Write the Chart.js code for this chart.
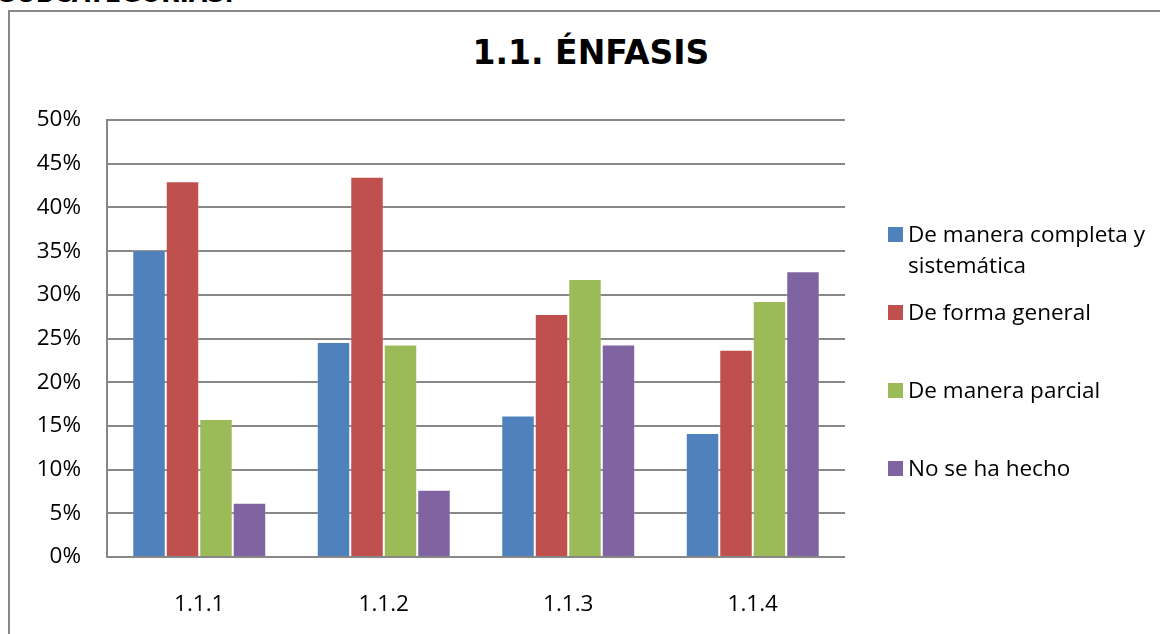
<!DOCTYPE html>
<html lang="es">
<head>
<meta charset="utf-8">
<title>1.1. ÉNFASIS</title>
<script src="https://cdn.jsdelivr.net/npm/chart.js@4.4.1/dist/chart.umd.min.js"></script>
<style>
  html, body { margin: 0; padding: 0; background: #fff; overflow: hidden; }
  body { width: 1160px; height: 634px; position: relative; font-family: 'Open Sans', sans-serif; }
  .page-heading { position: absolute; left: -1px; top: -18px; font: bold 24px/24px 'DejaVu Sans', sans-serif; color: #000; white-space: nowrap; }
  .frame { position: absolute; left: 8px; top: 10px; width: 1200px; height: 700px; border-left: 2px solid #878787; border-top: 2px solid #878787; }
  .chart-title { position: absolute; left: 0; top: 34px; width: 1182px; text-align: center; font: bold 33px/38px 'DejaVu Sans', sans-serif; color: #000; }
  .chart-wrap { position: absolute; left: 0; top: 0; width: 1160px; height: 634px; }
  #legend { position: absolute; left: 888px; top: 218px; }
  .legend-item { position: absolute; left: 0; width: 265px; }
  .legend-box { position: absolute; left: 0; top: 9px; width: 15px; height: 15px; }
  .legend-text { margin-left: 20px; width: 245px; font-size: 22.5px; line-height: 31px; color: #000; }
</style>
</head>
<body>
<div class="page-heading">SUBCATEGORÍAS.</div>
<div class="frame"></div>
<div class="chart-title">1.1. ÉNFASIS</div>
<div class="chart-wrap"><canvas id="enfasisChart"></canvas></div>
<div id="legend"></div>

<script>
// datos (porcentajes)
const categories = ['1.1.1', '1.1.2', '1.1.3', '1.1.4'];
const seriesNames = ['De manera completa y sistemática', 'De forma general', 'De manera parcial', 'No se ha hecho'];
const completa = [35.1, 24.6, 16.2, 14.2];
const general = [43.0, 43.5, 27.8, 23.7];
const parcial = [15.8, 24.3, 31.8, 29.3];
const noHecho = [6.2, 7.7, 24.3, 32.7];
const seriesColors = ['#4F81BD', '#C0504D', '#9BBB59', '#8064A2'];

const gridGray = '#878787';

Chart.defaults.font.family = "'Open Sans', sans-serif";
Chart.defaults.color = '#000';

const ctx = document.getElementById('enfasisChart').getContext('2d');
const chart = new Chart(ctx, {
  type: 'bar',
  data: {
    labels: categories,
    datasets: [completa, general, parcial, noHecho].map((values, i) => ({
      label: seriesNames[i],
      data: values,
      backgroundColor: seriesColors[i],
      borderColor: 'rgba(255, 255, 255, 0.2)',
      borderWidth: 1
    }))
  },
  options: {
    responsive: true,
    maintainAspectRatio: false,
    animation: false,
    layout: { padding: { top: 120, right: 315, bottom: 0, left: 0 } },
    datasets: { bar: { categoryPercentage: 0.726, barPercentage: 1 } },
    plugins: {
      legend: { display: false },
      title: { display: false },
      tooltip: { enabled: false }
    },
    scales: {
      x: {
        grid: { display: false },
        border: { display: false },
        ticks: { padding: 26, font: { size: 22.5 } },
        afterFit: scale => { scale.height = 77; }
      },
      y: {
        min: 0,
        max: 50,
        ticks: {
          stepSize: 5,
          padding: 26,
          font: { size: 22.5 },
          callback: v => v + '%'
        },
        grid: { color: gridGray, lineWidth: 2, drawTicks: false },
        border: { display: true, color: gridGray, width: 2 },
        afterFit: scale => { scale.width = 107; }
      }
    }
  }
});

// leyenda a la derecha (texto en dos lineas para la primera serie)
const legendEl = document.getElementById('legend');
chart.data.datasets.forEach((ds, i) => {
  const item = document.createElement('div');
  item.className = 'legend-item';
  item.style.top = (i * 78) + 'px';
  const box = document.createElement('span');
  box.className = 'legend-box';
  box.style.background = ds.backgroundColor;
  const text = document.createElement('div');
  text.className = 'legend-text';
  text.textContent = ds.label;
  item.appendChild(box);
  item.appendChild(text);
  legendEl.appendChild(item);
});
</script>
</body>
</html>
